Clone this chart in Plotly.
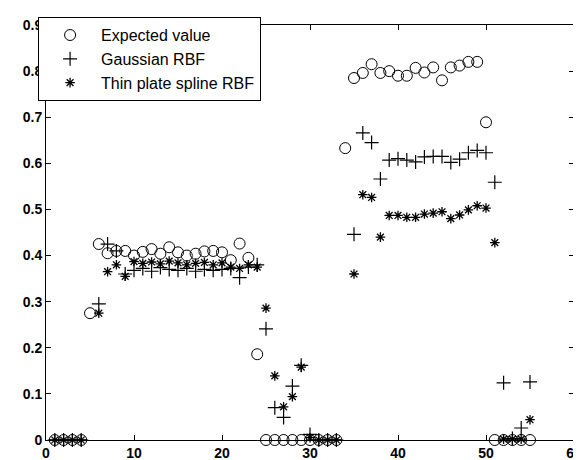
import plotly.graph_objects as go

x = list(range(1, 56))

expected = [0, 0, 0, 0, 0.275, 0.425, 0.405, 0.41, 0.41, 0.40,
            0.408, 0.414, 0.404, 0.418, 0.407, 0.40, 0.404, 0.409, 0.41, 0.407,
            0.39, 0.426, 0.395, 0.186, 0, 0, 0, 0, 0, 0,
            0, 0, 0, 0.633, 0.785, 0.796, 0.815, 0.796, 0.80, 0.79,
            0.79, 0.807, 0.797, 0.808, 0.78, 0.808, 0.812, 0.82, 0.82, 0.689,
            0, 0, 0, 0, 0]

gaussian = [0, 0, 0, 0, None, 0.295, 0.425, 0.41, 0.36, 0.368,
            0.372, 0.366, 0.374, 0.370, 0.368, 0.372, 0.366, 0.37, 0.368, 0.37,
            0.372, 0.352, 0.375, 0.38, 0.241, 0.07, 0.049, 0.117, 0.162, 0.012,
            0, 0, 0, None, 0.446, 0.666, 0.645, 0.566, 0.607, 0.610,
            0.607, 0.603, 0.614, 0.615, 0.615, 0.602, 0.609, 0.623, 0.628, 0.623,
            0.559, 0.124, 0.003, 0.026, 0.126]

tps = [0, 0, 0, 0, None, 0.275, 0.365, 0.38, 0.355, 0.387,
       0.383, 0.386, 0.382, 0.388, 0.384, 0.38, 0.383, 0.385, 0.38, 0.384,
       0.375, 0.372, 0.38, 0.375, 0.286, 0.139, 0.072, 0.094, 0.158, 0.005,
       0, 0, 0, None, 0.36, 0.532, 0.526, 0.44, 0.487, 0.487,
       0.483, 0.483, 0.490, 0.492, 0.495, 0.480, 0.488, 0.499, 0.508, 0.503,
       0.428, 0.002, 0.002, 0.002, 0.044]

x_ticks = [0, 10, 20, 30, 40, 50, 60]
y_ticks = [0, 0.1, 0.2, 0.3, 0.4, 0.5, 0.6, 0.7, 0.8, 0.9]
y_tick_labels = ["0", "0.1", "0.2", "0.3", "0.4", "0.5", "0.6", "0.7", "0.8", "0.9"]

fig = go.Figure()
fig.add_trace(go.Scatter(
    x=x, y=expected, mode="markers", name="Expected value",
    marker=dict(symbol="circle-open", size=11, color="black", line=dict(width=1, color="black")),
    cliponaxis=False))
fig.add_trace(go.Scatter(
    x=x, y=gaussian, mode="markers", name="Gaussian RBF",
    marker=dict(symbol="cross-thin", size=10, color="black", line=dict(width=1.2, color="black")),
    cliponaxis=False))
fig.add_trace(go.Scatter(
    x=x, y=tps, mode="markers", name="Thin plate spline RBF",
    marker=dict(symbol="asterisk-open", size=8, color="black", line=dict(width=1.3, color="black")),
    cliponaxis=False))

axis_common = dict(showline=True, linecolor="black", linewidth=1, mirror="ticks",
                   ticks="inside", ticklen=5, tickcolor="black", showgrid=False,
                   zeroline=False,
                   tickfont=dict(family="Liberation Sans", size=14, color="black", weight="bold"))

fig.update_layout(
    width=581, height=460,
    margin=dict(l=38, r=7, t=17, b=21),
    paper_bgcolor="white", plot_bgcolor="white",
    showlegend=True,
    legend=dict(x=-0.015, y=1.019, xanchor="left", yanchor="top",
                bordercolor="black", borderwidth=1, bgcolor="white",
                font=dict(family="Liberation Sans", size=16, color="black"),
                tracegroupgap=0, itemwidth=52),
    xaxis=dict(range=[0, 60], tickvals=x_ticks, ticktext=[str(t) for t in x_ticks], **axis_common),
    yaxis=dict(range=[0, 0.9], tickvals=y_ticks, ticktext=y_tick_labels, **axis_common),
)

fig.write_html("out.html")
